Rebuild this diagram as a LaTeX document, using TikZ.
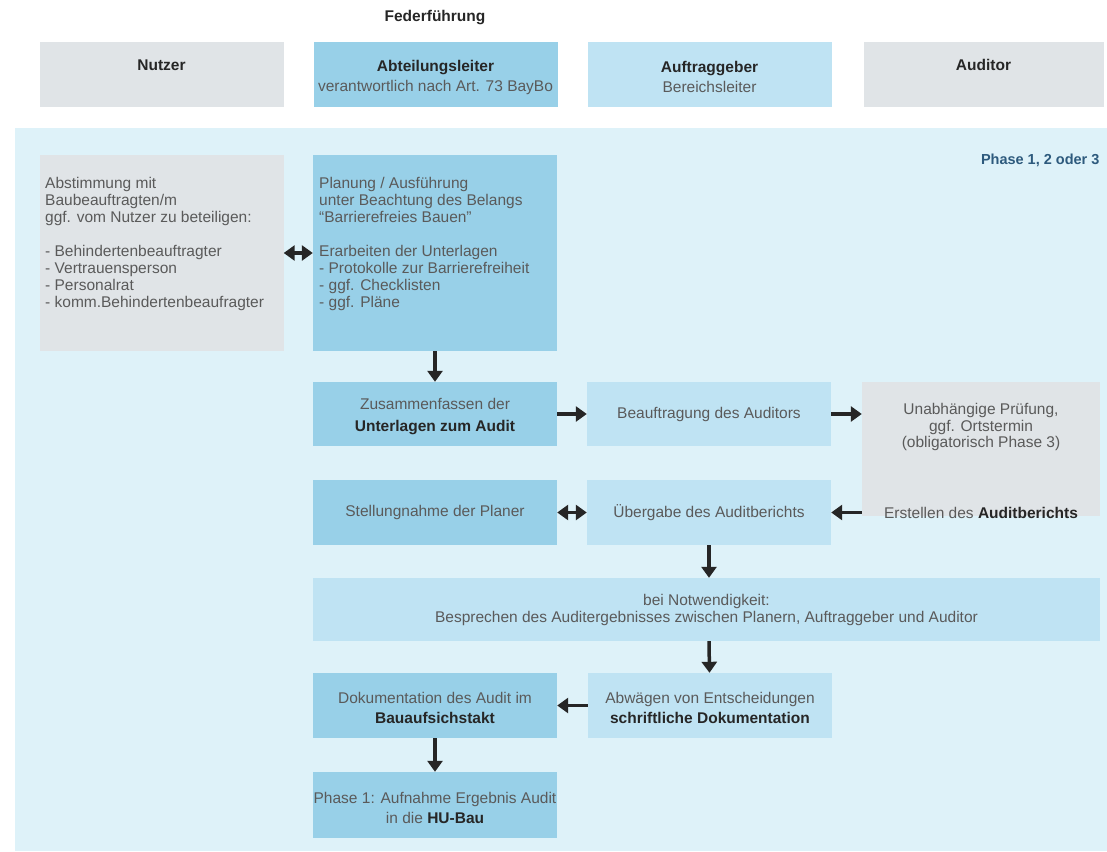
\documentclass[tikz,border=0pt]{standalone}
\usepackage{fontspec}
\setmainfont{Liberation Sans}
\usetikzlibrary{arrows.meta,positioning}
\definecolor{blauD}{RGB}{152,208,232}
\definecolor{blauH}{RGB}{191,227,243}
\definecolor{grauK}{RGB}{224,228,231}
\definecolor{hgBlau}{RGB}{222,242,249}
\definecolor{schrift}{RGB}{90,90,90}
\definecolor{phasenblau}{RGB}{45,90,125}
\newcommand{\fett}[1]{\textcolor{black!85}{\textbf{#1}}}
\newcommand{\oben}{\rule{0pt}{16.5pt}}

\begin{document}
\begin{tikzpicture}[x=1pt, y=-1pt, node distance=274pt,
        font=\fontsize{15.5}{17}\selectfont, text=schrift,
        box/.style = {minimum width=244pt, minimum height=65pt, inner sep=0pt, align=center},
        dunkel/.style = {box, fill=blauD},
        hell/.style = {box, fill=blauH},
        grau/.style = {box, fill=grauK},
        kopf/.style = {font=\fontsize{15.5}{20}\selectfont},
        zweizeilig/.style = {font=\fontsize{15.5}{20}\selectfont},
        pfeil/.style = {-{Triangle[length=11pt,width=15pt]}, line width=3.5pt, draw=black!85},
        doppel/.style = {{Triangle[length=11pt,width=15pt]}-{Triangle[length=11pt,width=15pt]}, line width=3.5pt, draw=black!85}]
    \useasboundingbox (0,0) rectangle (1107,851);
    \fill[hgBlau] (15,128) rectangle (1107,851);

    % Kopfzeile
    \node[font=\fontsize{15.5}{17}\selectfont\bfseries, text=black!85] (feder) at (435,18) {Federführung};
    \node[grau, kopf] (nutzer) at (161.5,74.5) {\fett{Nutzer}\rule[-19pt]{0pt}{19pt}};
    \node[dunkel, kopf] (abt) [right of=nutzer] {\oben\fett{Abteilungsleiter}\\verantwortlich nach Art. 73 BayBo};
    \node[hell, kopf] (auft) [right of=abt] {\oben\fett{Auftraggeber}\\Bereichsleiter};
    \node[grau, kopf, minimum width=240pt] (auditor) [right of=auft] {\fett{Auditor}\rule[-19pt]{0pt}{19pt}};

    \node[anchor=east, font=\fontsize{14.5}{17}\selectfont\bfseries, text=phasenblau] (phase) at (1103,160) {Phase 1, 2 oder 3};

    % Phase
    \node[grau, minimum height=196pt] (nutzbox) at (161.5,253) {};
    \node[anchor=north west, align=left, inner sep=0pt] (nutztxt) at (45,177) {Abstimmung mit\\Baubeauftragten/m\\ggf. vom Nutzer zu beteiligen:\\[17pt]- Behindertenbeauftragter\\- Vertrauensperson\\- Personalrat\\- komm.Behindertenbeaufragter};
    \node[dunkel, minimum height=196pt] (plan) at (435,253) {};
    \node[anchor=north west, align=left, inner sep=0pt] (plantxt) at (319,177) {Planung / Ausführung\\unter Beachtung des Belangs\\``Barrierefreies Bauen''\\[17pt]Erarbeiten der Unterlagen\\- Protokolle zur Barrierefreiheit\\- ggf. Checklisten\\- ggf. Pläne};

    \node[dunkel, font=\fontsize{15.5}{22}\selectfont, minimum height=64pt] (zus) at (435,414) {\oben Zusammenfassen der\\\fett{Unterlagen zum Audit}};
    \node[hell, minimum height=64pt] (beauf) [right of=zus] {Beauftragung des Auditors};
    \node[grau, minimum width=238pt, minimum height=134pt] (aud) at (981,449) {};
    \node[align=center, font=\fontsize{15.5}{16.5}\selectfont] (audoben) at (981,427) {Unabhängige Prüfung,\\ggf. Ortstermin\\(obligatorisch Phase 3)};
    \node (auderst) at (981,512.5) {Erstellen des \fett{Auditberichts}};

    \node[dunkel] (stell) at (435,512.5) {Stellungnahme der Planer};
    \node[hell] (ueber) [right of=stell] {Übergabe des Auditberichts};

    \node[hell, minimum width=787pt, minimum height=63pt] (bespr) at (706.5,609.5) {bei Notwendigkeit:\\Besprechen des Auditergebnisses zwischen Planern, Auftraggeber und Auditor};

    \node[hell, zweizeilig] (abw) at (710,705.5) {\oben Abwägen von Entscheidungen\\\fett{schriftliche Dokumentation}};
    \node[dunkel, zweizeilig] (doku) at (435,705.5) {\oben Dokumentation des Audit im\\\fett{Bauaufsichstakt}};
    \node[dunkel, zweizeilig, minimum height=66pt] (hubau) at (435,805) {\oben Phase 1: Aufnahme Ergebnis Audit\\in die \fett{HU-Bau}};

    \draw[doppel] (nutzbox.east) -- (plan.west);
    \draw[pfeil] (plan) -- (zus);
    \draw[pfeil] (zus) -- (beauf);
    \draw[pfeil] (beauf.east) -- (beauf.east -| aud.west);
    \draw[pfeil] (ueber.east -| aud.west) -- (ueber.east);
    \draw[doppel] (stell) -- (ueber);
    \draw[pfeil] (ueber) -- (ueber |- bespr.north);
    \draw[pfeil] (ueber |- bespr.south) -- (abw);
    \draw[pfeil] (abw) -- (doku);
    \draw[pfeil] (doku) -- (hubau);
\end{tikzpicture}
\end{document}
